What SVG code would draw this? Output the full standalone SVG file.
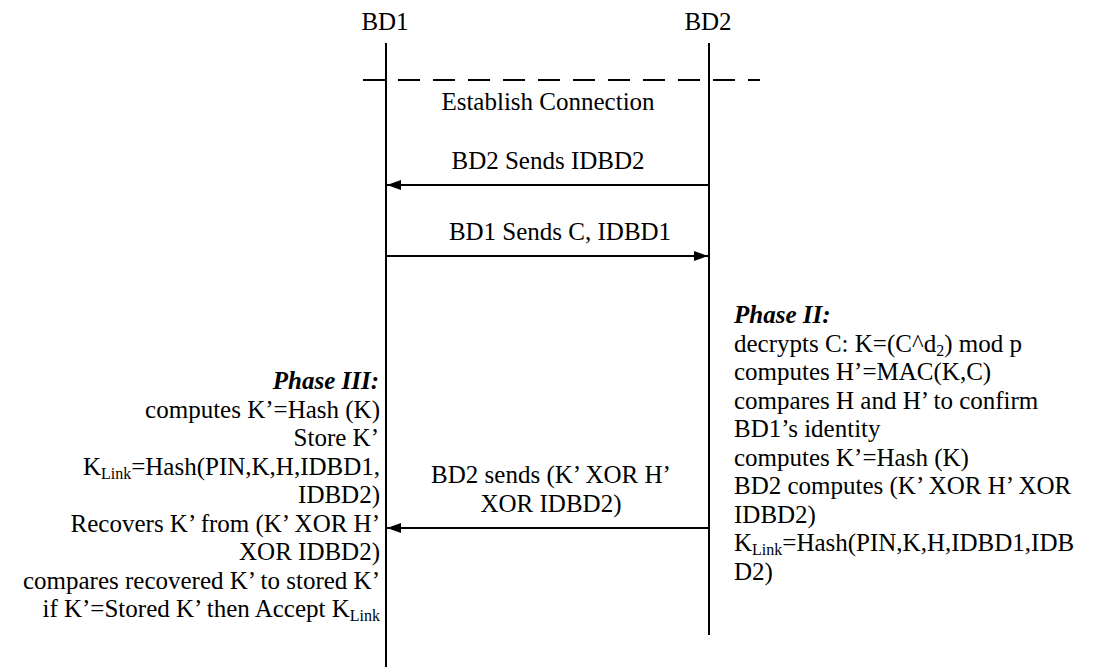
<svg xmlns="http://www.w3.org/2000/svg" width="1095" height="667" viewBox="0 0 1095 667">
<style>
text{font-family:"Liberation Serif","Times New Roman",serif;font-size:25px;fill:#000}
.life{stroke:#000;stroke-width:2;fill:none}
.msg{stroke:#000;stroke-width:2;fill:none;marker-end:url(#ah)}
.dash{stroke:#000;stroke-width:2;fill:none;stroke-dasharray:22 13}
.hd{font-weight:bold;font-style:italic}
.sub{font-size:16px}
</style>
<defs>
<marker id="ah" viewBox="0 0 14 10" refX="14" refY="5" markerWidth="14" markerHeight="10" markerUnits="userSpaceOnUse" orient="auto">
<path d="M0,0 L14,5 L0,10 Z" fill="#000"/>
</marker>
</defs>
<rect width="1095" height="667" fill="#fff"/>
<g id="bd1">
<text x="385" y="30" text-anchor="middle">BD1</text>
<line class="life" x1="386" y1="43" x2="386" y2="667"/>
</g>
<g id="bd2">
<text x="708" y="30" text-anchor="middle">BD2</text>
<line class="life" x1="709" y1="43" x2="709" y2="635"/>
</g>
<g id="connectors">
<line class="dash" x1="363" y1="80" x2="760" y2="80"/>
<text x="548" y="110" text-anchor="middle">Establish Connection</text>
<line class="msg" x1="709" y1="185" x2="387" y2="185"/>
<text x="548" y="169" text-anchor="middle">BD2 Sends IDBD2</text>
<line class="msg" x1="386" y1="256" x2="708" y2="256"/>
<text x="560" y="240" text-anchor="middle">BD1 Sends C, IDBD1</text>
<line class="msg" x1="709" y1="528" x2="387" y2="528"/>
<text x="551" y="483" text-anchor="middle">BD2 sends (K’ XOR H’</text>
<text x="551" y="511.5" text-anchor="middle">XOR IDBD2)</text>
</g>
<g id="phase2">
<text x="734" y="323" class="hd">Phase II:</text>
<text x="734" y="351.5">decrypts C: K=(C^d<tspan class="sub" dy="4">2</tspan><tspan dy="-4">) mod p</tspan></text>
<text x="734" y="380">computes H’=MAC(K,C)</text>
<text x="734" y="408.5">compares H and H’ to confirm</text>
<text x="734" y="437">BD1’s identity</text>
<text x="734" y="465.5">computes K’=Hash (K)</text>
<text x="734" y="494">BD2 computes (K’ XOR H’ XOR</text>
<text x="734" y="522.5">IDBD2)</text>
<text x="734" y="551">K<tspan class="sub" dy="4">Link</tspan><tspan dy="-4">=Hash(PIN,K,H,IDBD1,IDB</tspan></text>
<text x="734" y="579.5">D2)</text>
</g>
<g id="phase3">
<text x="379" y="389" text-anchor="end" class="hd">Phase III:</text>
<text x="380" y="417.5" text-anchor="end">computes K’=Hash (K)</text>
<text x="379" y="446" text-anchor="end">Store K’</text>
<text x="380" y="474.5" text-anchor="end">K<tspan class="sub" dy="4">Link</tspan><tspan dy="-4">=Hash(PIN,K,H,IDBD1,</tspan></text>
<text x="380" y="503" text-anchor="end">IDBD2)</text>
<text x="380" y="531.5" text-anchor="end">Recovers K’ from (K’ XOR H’</text>
<text x="380" y="560" text-anchor="end">XOR IDBD2)</text>
<text x="380" y="588.5" text-anchor="end">compares recovered K’ to stored K’</text>
<text x="380" y="617" text-anchor="end">if K’=Stored K’ then Accept K<tspan class="sub" dy="4">Link</tspan></text>
</g>
</svg>
